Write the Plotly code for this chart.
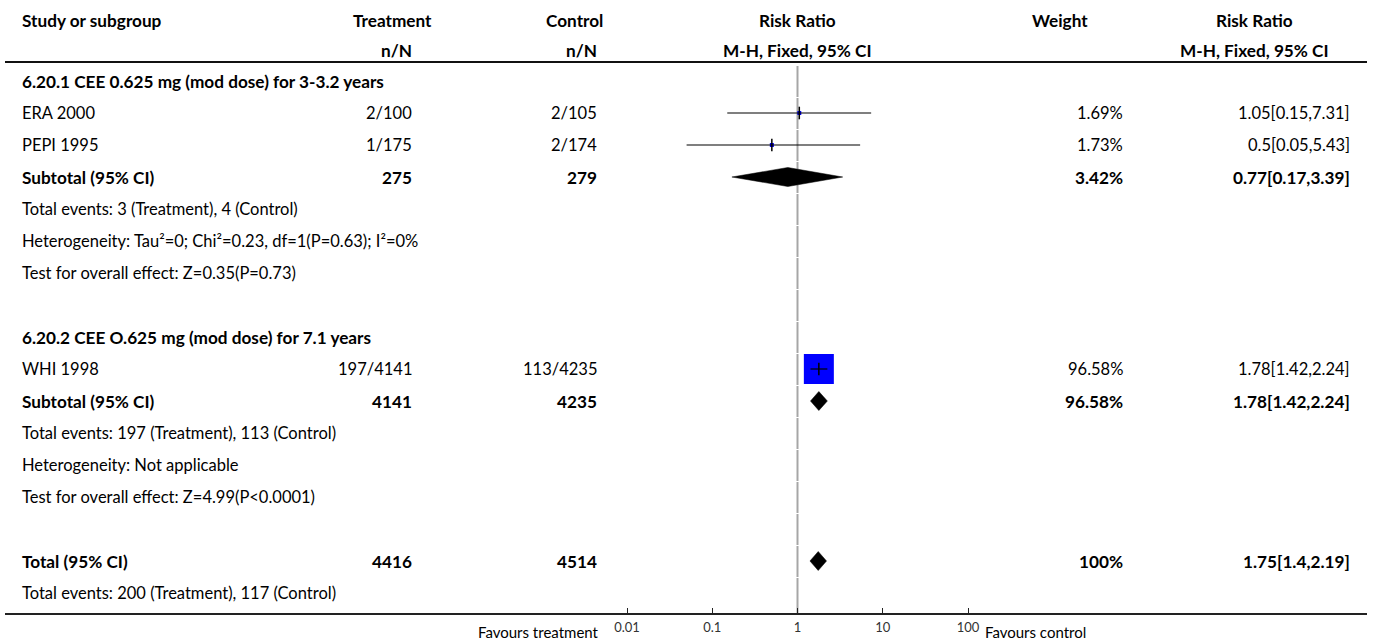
import plotly.graph_objects as go

# ---- data ---------------------------------------------------------------
study_names = ["ERA 2000", "PEPI 1995", "WHI 1998"]
study_rows = [1, 2, 9]
treat_events = [2, 1, 197]
treat_totals = [100, 175, 4141]
ctrl_events = [2, 2, 113]
ctrl_totals = [105, 174, 4235]
study_weights = [1.69, 1.73, 96.58]
study_rr = [1.05, 0.5, 1.78]
study_lo = [0.15, 0.05, 1.42]
study_hi = [7.31, 5.43, 2.24]

pooled_names = ["Subtotal (95% CI)", "Subtotal (95% CI)", "Total (95% CI)"]
pooled_rows = [3, 10, 15]
pooled_treat_n = [275, 4141, 4416]
pooled_ctrl_n = [279, 4235, 4514]
pooled_weights = [3.42, 96.58, 100]
pooled_rr = [0.77, 1.78, 1.75]
pooled_lo = [0.17, 1.42, 1.4]
pooled_hi = [3.39, 2.24, 2.19]

group_rows = [0, 8]
group_titles = ["6.20.1 CEE 0.625 mg (mod dose) for 3-3.2 years",
                "6.20.2 CEE O.625 mg (mod dose) for 7.1 years"]

note_rows = [4, 5, 6, 11, 12, 13, 16]
note_texts = [
    "Total events: 3 (Treatment), 4 (Control)",
    "Heterogeneity: Tau²=0; Chi²=0.23, df=1(P=0.63); I²=0%",
    "Test for overall effect: Z=0.35(P=0.73)",
    "Total events: 197 (Treatment), 113 (Control)",
    "Heterogeneity: Not applicable",
    "Test for overall effect: Z=4.99(P<0.0001)",
    "Total events: 200 (Treatment), 117 (Control)",
]

tick_values = [0.01, 0.1, 1, 10, 100]
tick_labels = ["0.01", "0.1", "1", "10", "100"]
n_rows = 17

# ---- layout constants ---------------------------------------------------
W, H = 1373, 641
ROW0, ROWH = 81, 32          # pixel centre of row 0 and row pitch
FONT = "Lato, 'Source Sans Pro', sans-serif"
FS = 16.5                    # regular text
FSB = 17.2                   # bold text


def row_of(py):
    return (py - ROW0) / ROWH


def px(x):
    return x / W


def fmt_rr(r, lo, hi):
    return f"{r:g}[{lo:g},{hi:g}]"


fig = go.Figure()

# reference line at RR = 1, drawn row by row
vx, vy = [], []
for r in range(n_rows):
    top = r - 0.5 + 1.0 / ROWH
    bot = r + 0.5 if r < n_rows - 1 else row_of(614)
    vx += [1, 1, None]
    vy += [top, bot, None]
fig.add_trace(go.Scatter(x=vx, y=vy, mode="lines",
                         line=dict(color="#a6a6a6", width=2),
                         hoverinfo="skip", showlegend=False))

# study weight squares
max_side = 30
sides = [max_side * (w / max(study_weights)) ** 0.5 for w in study_weights]
fig.add_trace(go.Scatter(x=study_rr, y=study_rows, mode="markers",
                         marker=dict(symbol="square", size=sides, color="#0000ff",
                                     opacity=1, line=dict(width=0)),
                         hoverinfo="skip", showlegend=False))

# confidence intervals
cx, cy = [], []
for lo, hi, r in zip(study_lo, study_hi, study_rows):
    cx += [lo, hi, None]
    cy += [r, r, None]
fig.add_trace(go.Scatter(x=cx, y=cy, mode="lines",
                         line=dict(color="#000000", width=1.2),
                         hoverinfo="skip", showlegend=False))

# point estimate ticks
fig.add_trace(go.Scatter(x=study_rr, y=study_rows, mode="markers",
                         marker=dict(symbol="line-ns", size=9,
                                     line=dict(color="#000000", width=1.5)),
                         hoverinfo="skip", showlegend=False))

# pooled diamonds
half = 9.5 / ROWH
for est, lo, hi, r in zip(pooled_rr, pooled_lo, pooled_hi, pooled_rows):
    fig.add_trace(go.Scatter(x=[lo, est, hi, est, lo],
                             y=[r, r - half, r, r + half, r],
                             mode="lines", fill="toself", fillcolor="#000000",
                             line=dict(color="#000000", width=0.5),
                             hoverinfo="skip", showlegend=False))

ann = []


def text(x, y, s, anchor="left", bold=False, size=None, color="#000000"):
    if size is None:
        size = FSB if bold else FS
    ann.append(dict(x=px(x), y=y, xref="paper", yref="y", text=f"<b>{s}</b>" if bold else s,
                    showarrow=False, xanchor=anchor, yanchor="middle",
                    font=dict(family=FONT, size=size, color=color)))


# column positions (pixels)
X_STUDY = 20
X_TREAT_R, X_TREAT_H = 414, 392
X_CTRL_R, X_CTRL_H = 599, 574
X_PLOT_H = 797
X_W_R, X_W_H = 1125, 1060
X_RR_R, X_RR_H = 1352, 1254

# headers
h1, h2 = row_of(20), row_of(50)
text(X_STUDY, h1, "Study or subgroup", bold=True)
text(X_TREAT_H, h1, "Treatment", "center", bold=True)
text(X_TREAT_R, h2, "n/N", "right", bold=True)
text(X_CTRL_H, h1, "Control", "center", bold=True)
text(X_CTRL_R, h2, "n/N", "right", bold=True)
text(X_PLOT_H, h1, "Risk Ratio", "center", bold=True)
text(X_PLOT_H, h2, "M-H, Fixed, 95% CI", "center", bold=True)
text(X_W_H, h1, "Weight", "center", bold=True)
text(X_RR_H, h1, "Risk Ratio", "center", bold=True)
text(X_RR_H, h2, "M-H, Fixed, 95% CI", "center", bold=True)

for r, t in zip(group_rows, group_titles):
    text(X_STUDY, r, t, bold=True)

for i, r in enumerate(study_rows):
    text(X_STUDY, r, study_names[i])
    text(X_TREAT_R, r, f"{treat_events[i]}/{treat_totals[i]}", "right")
    text(X_CTRL_R, r, f"{ctrl_events[i]}/{ctrl_totals[i]}", "right")
    text(X_W_R, r, f"{study_weights[i]:g}%", "right")
    text(X_RR_R, r, fmt_rr(study_rr[i], study_lo[i], study_hi[i]), "right")

for i, r in enumerate(pooled_rows):
    text(X_STUDY, r, pooled_names[i], bold=True)
    text(X_TREAT_R, r, str(pooled_treat_n[i]), "right", bold=True)
    text(X_CTRL_R, r, str(pooled_ctrl_n[i]), "right", bold=True)
    text(X_W_R, r, f"{pooled_weights[i]:g}%", "right", bold=True)
    text(X_RR_R, r, fmt_rr(pooled_rr[i], pooled_lo[i], pooled_hi[i]), "right", bold=True)

for r, t in zip(note_rows, note_texts):
    text(X_STUDY, r, t)

text(601, row_of(632), "Favours treatment", "right", size=15)
text(983, row_of(632), "Favours control", "left", size=15)

shapes = [
    dict(type="line", xref="paper", yref="y", x0=px(5), x1=px(1367),
         y0=row_of(62), y1=row_of(62), line=dict(color="#111111", width=2)),
    dict(type="line", xref="paper", yref="y", x0=px(5), x1=px(1367),
         y0=row_of(614), y1=row_of(614), line=dict(color="#222222", width=2)),
]

# log axis: decades at 627 / 968 px
slope = (968 - 627) / 4.0
centre = (968 + 627) / 2.0
d0, d1 = 615, 980
x_range = [(d0 - centre) / slope, (d1 - centre) / slope]

fig.update_layout(
    width=W, height=H,
    margin=dict(l=0, r=0, t=0, b=0),
    paper_bgcolor="white", plot_bgcolor="white",
    showlegend=False,
    annotations=ann, shapes=shapes,
    xaxis=dict(type="log", range=x_range, domain=[px(d0), px(d1)],
               anchor="free", position=1 - 614 / H,
               showgrid=False, zeroline=False, showline=False,
               ticks="inside", ticklen=6, tickwidth=1, tickcolor="#222222",
               ticklabelstandoff=4,
               tickvals=tick_values, ticktext=tick_labels,
               tickfont=dict(family=FONT, size=13, color="#333333")),
    yaxis=dict(range=[row_of(H), row_of(0)], domain=[0, 1],
               visible=False, showgrid=False, zeroline=False),
)

fig.write_html("out.html")
